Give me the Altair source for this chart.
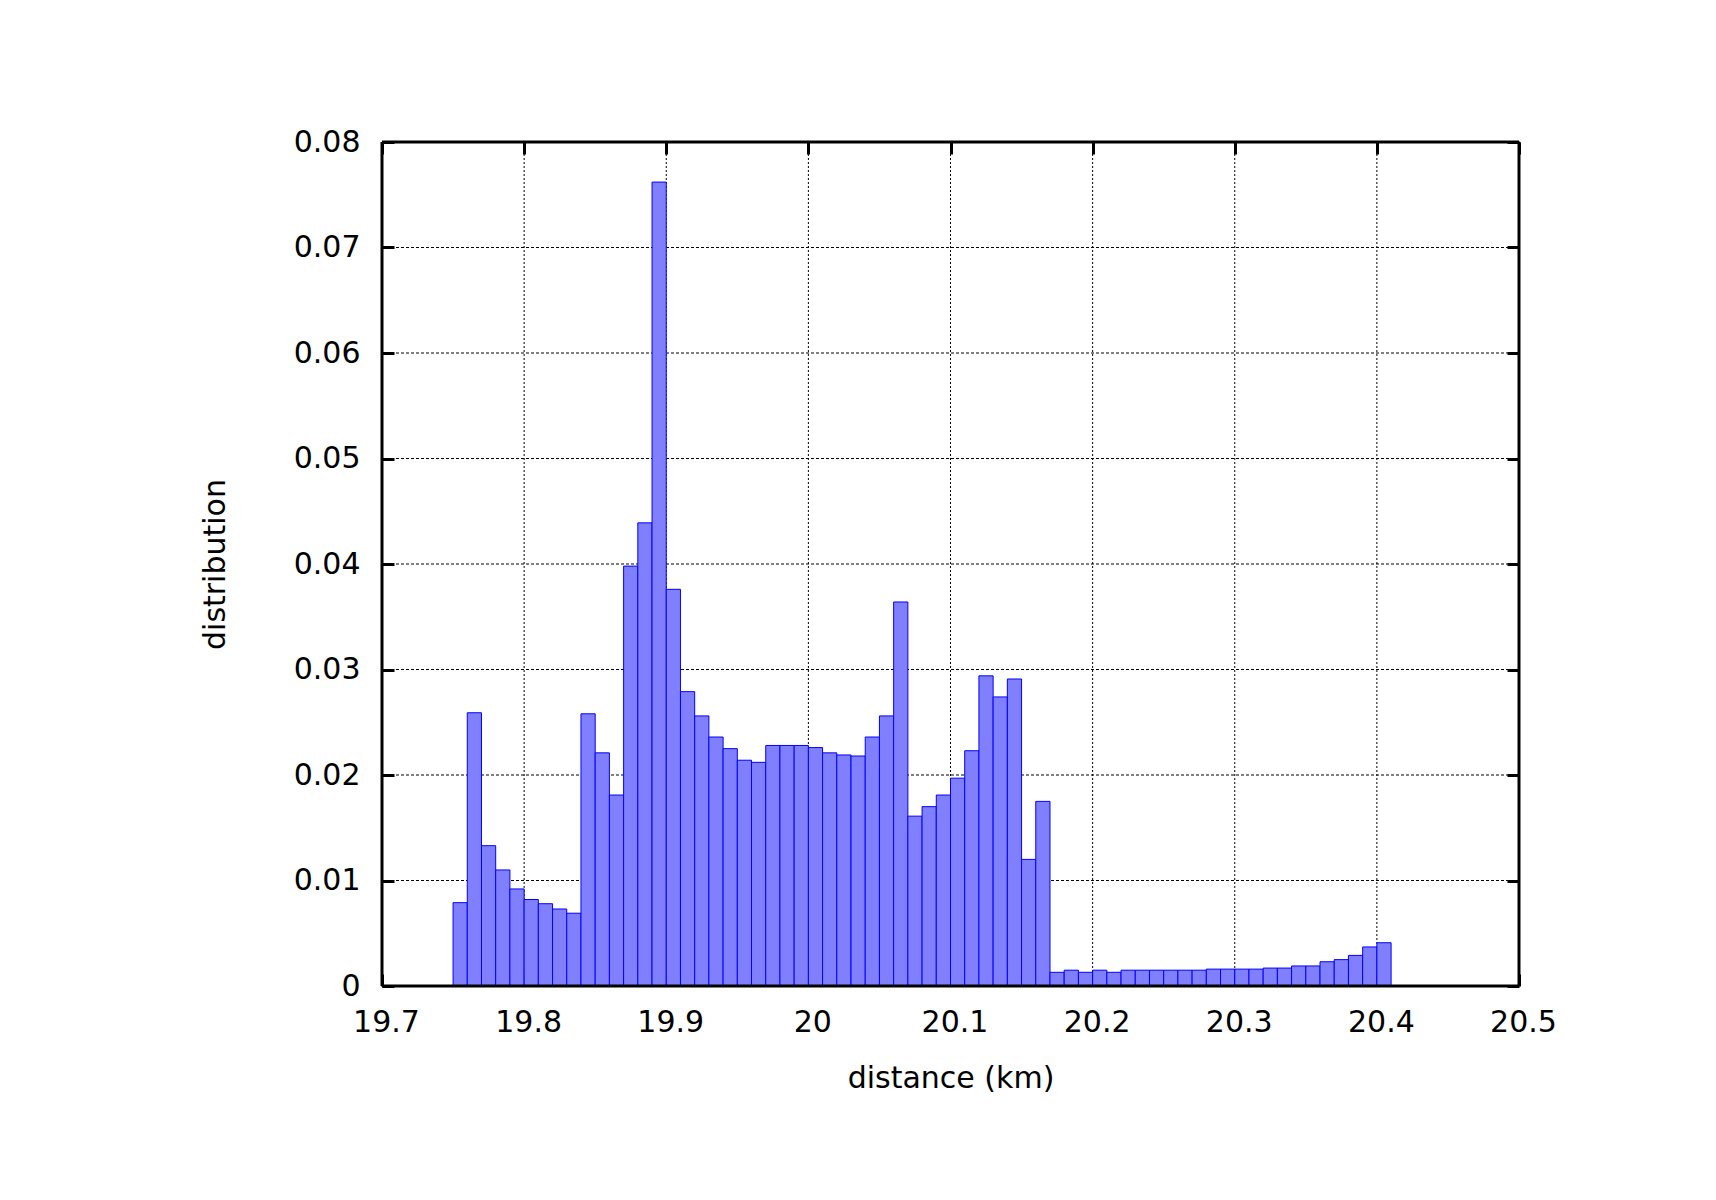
import altair as alt
import pandas as pd

# ---- data ----
bin_start = [19.75, 19.76, 19.77, 19.78, 19.79, 19.80, 19.81, 19.82, 19.83, 19.84,
             19.85, 19.86, 19.87, 19.88, 19.89, 19.90, 19.91, 19.92, 19.93, 19.94,
             19.95, 19.96, 19.97, 19.98, 19.99, 20.00, 20.01, 20.02, 20.03, 20.04,
             20.05, 20.06, 20.07, 20.08, 20.09, 20.10, 20.11, 20.12, 20.13, 20.14,
             20.15, 20.16, 20.17, 20.18, 20.19, 20.20, 20.21, 20.22, 20.23, 20.24,
             20.25, 20.26, 20.27, 20.28, 20.29, 20.30, 20.31, 20.32, 20.33, 20.34,
             20.35, 20.36, 20.37, 20.38, 20.39, 20.40]
distribution = [0.0079, 0.0259, 0.0133, 0.0110, 0.0092, 0.0082, 0.0078, 0.0073, 0.0069, 0.0258,
                0.0221, 0.0181, 0.0398, 0.0439, 0.0762, 0.0376, 0.0279, 0.0256, 0.0236, 0.0225,
                0.0214, 0.0212, 0.0228, 0.0228, 0.0228, 0.0226, 0.0221, 0.0219, 0.0218, 0.0236,
                0.0256, 0.0364, 0.0161, 0.0170, 0.0181, 0.0197, 0.0223, 0.0294, 0.0274, 0.0291,
                0.0120, 0.0175, 0.0013, 0.0015, 0.0013, 0.0015, 0.0013, 0.0015, 0.0015, 0.0015,
                0.0015, 0.0015, 0.0015, 0.0016, 0.0016, 0.0016, 0.0016, 0.0017, 0.0017, 0.0019,
                0.0019, 0.0023, 0.0025, 0.0029, 0.0037, 0.0041]
BIN_WIDTH = 0.01
x_ticks = [19.7, 19.8, 19.9, 20.0, 20.1, 20.2, 20.3, 20.4, 20.5]
y_ticks = [0.0, 0.01, 0.02, 0.03, 0.04, 0.05, 0.06, 0.07, 0.08]
x_range = [19.7, 20.5]
y_range = [0.0, 0.08]

bars_df = pd.DataFrame({
    "start": bin_start,
    "end": [round(s + BIN_WIDTH, 2) for s in bin_start],
    "value": distribution,
    "zero": [y_range[0]] * len(bin_start),
})
xgrid_df = pd.DataFrame({"tick": x_ticks[1:-1]})
ygrid_df = pd.DataFrame({"tick": y_ticks[1:-1]})
xborder_df = pd.DataFrame({"edge": x_range})
yborder_df = pd.DataFrame({"edge": y_range})

# ---- layout / style ----
W, H = 1137, 844
TICK = 12
FONT = "DejaVu Sans"
FS = 30

xscale = alt.Scale(domain=x_range, nice=False, zero=False, padding=0)
yscale = alt.Scale(domain=y_range, nice=False, zero=False, padding=0)

tick_style = dict(offset=-TICK, tickSize=TICK, tickWidth=3, tickColor="black",
                  domain=False, grid=False)
label_style = dict(labelFont=FONT, labelFontSize=FS, labelColor="black",
                   labelOverlap=False, labelFlush=False, labelBound=False,
                   titleFont=FONT, titleFontSize=FS, titleFontWeight="normal",
                   titleColor="black")

x_axis = alt.Axis(orient="bottom", values=x_ticks, format=".1~f",
                  labelPadding=36, labelBaseline="middle", labelAlign="center",
                  labelOffset=4,
                  title="distance (km)", titleX=W / 2, titleY=104,
                  titleAlign="center", titleBaseline="middle",
                  **tick_style, **label_style)
y_axis = alt.Axis(orient="left", values=y_ticks, format=".2~f",
                  labelPadding=22, labelBaseline="middle", labelAlign="right",
                  title="distribution", titleX=-179, titleY=H / 2, titleAngle=270,
                  titleAlign="center", titleBaseline="middle",
                  **tick_style, **label_style)
x_axis_top = alt.Axis(orient="top", values=x_ticks, labels=False, title=None, **tick_style)
y_axis_right = alt.Axis(orient="right", values=y_ticks, labels=False, title=None, **tick_style)

grid_x = alt.Chart(xgrid_df).mark_rule(color="black", strokeWidth=1, strokeDash=[2, 2]).encode(
    x=alt.X("tick:Q", scale=xscale, axis=x_axis)
)
grid_y = alt.Chart(ygrid_df).mark_rule(color="black", strokeWidth=1, strokeDash=[3, 2]).encode(
    y=alt.Y("tick:Q", scale=yscale, axis=y_axis)
)
bars = alt.Chart(bars_df).mark_rect(
    fill="#8080ff", stroke="#0000ff", strokeWidth=1, opacity=1
).encode(
    x=alt.X("start:Q", scale=xscale, axis=None),
    x2="end:Q",
    y=alt.Y("value:Q", scale=yscale, axis=None),
    y2="zero:Q",
)
border_x = alt.Chart(xborder_df).mark_rule(color="black", strokeWidth=3).encode(
    x=alt.X("edge:Q", scale=xscale, axis=None)
)
border_y = alt.Chart(yborder_df).mark_rule(color="black", strokeWidth=3).encode(
    y=alt.Y("edge:Q", scale=yscale, axis=None)
)
mirror = alt.Chart(bars_df).mark_rect(opacity=0).encode(
    x=alt.X("start:Q", scale=xscale, axis=x_axis_top),
    x2="end:Q",
    y=alt.Y("value:Q", scale=yscale, axis=y_axis_right),
    y2="zero:Q",
)

chart = alt.layer(grid_x, grid_y, bars, border_x, border_y, mirror).resolve_axis(
    x="independent", y="independent"
).properties(
    width=W,
    height=H,
    autosize=alt.AutoSizeParams(type="none"),
    padding={"left": 374, "top": 134, "right": 150, "bottom": 180},
).configure_view(
    strokeWidth=0
).configure(background="white")

chart.save("out.html", embed_options={"renderer": "svg", "actions": False})
